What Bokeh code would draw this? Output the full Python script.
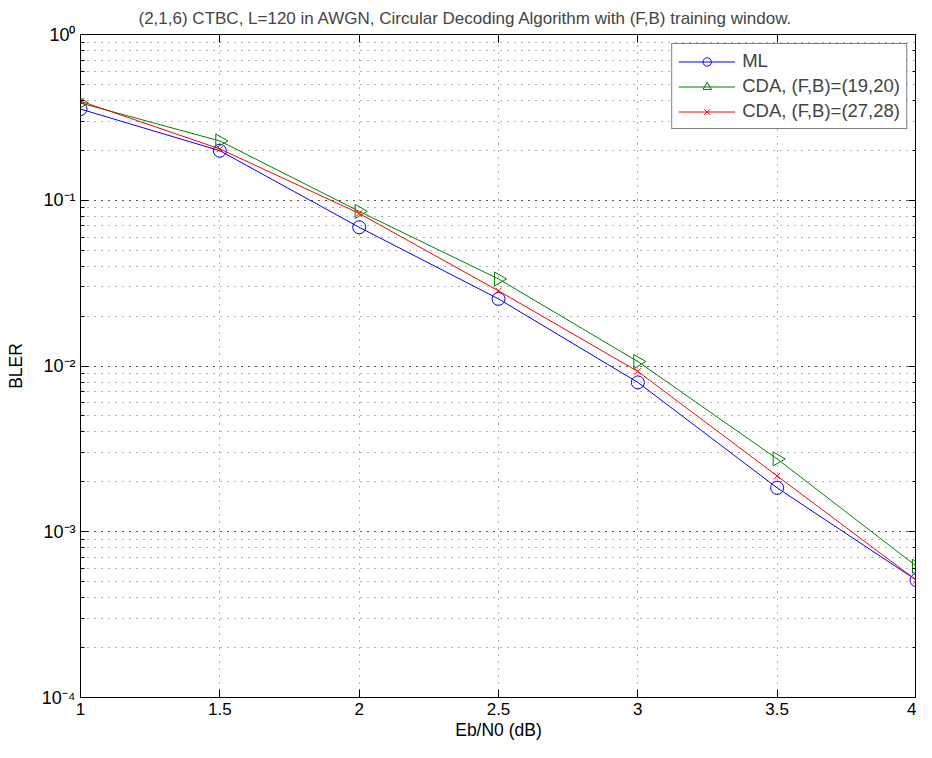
import numpy as np
from bokeh.plotting import figure
from bokeh.models import LinearAxis, LogAxis, Legend, LegendItem, FixedTicker, CustomJSTickFormatter
from bokeh.embed import file_html
from bokeh.resources import INLINE

ebn0 = [1.0, 1.5, 2.0, 2.5, 3.0, 3.5, 4.0]
bler_ml = [0.355, 0.199, 0.0687, 0.0254, 0.00796, 0.00184, 0.000510]
bler_cda_19_20 = [0.386, 0.228, 0.0857, 0.0335, 0.01064, 0.00275, 0.000619]
bler_cda_27_28 = [0.396, 0.204, 0.0833, 0.0284, 0.00927, 0.00217, 0.000510]
x_ticks = [1, 1.5, 2, 2.5, 3, 3.5, 4]
x_tick_labels = {1: "1", 1.5: "1.5", 2: "2", 2.5: "2.5", 3: "3", 3.5: "3.5", 4: "4"}
y_tick_labels = {1e-4: "10⁻⁴", 1e-3: "10⁻³", 1e-2: "10⁻²", 1e-1: "10⁻¹", 1: "10⁰"}
title_text = "(2,1,6) CTBC, L=120 in AWGN, Circular Decoding Algorithm with (F,B) training window."
series_labels = ["ML", "CDA, (F,B)=(19,20)", "CDA, (F,B)=(27,28)"]

FONT = "Liberation Sans"
GRID = "#000000"

p = figure(width=916, height=742, y_axis_type="log", x_range=(1, 4), y_range=(1e-4, 1),
           output_backend="svg", toolbar_location=None, title=title_text,
           min_border_left=80, min_border_right=0, min_border_top=30, min_border_bottom=45)
p.title.align = "left"
p.title.offset = 58
p.title.text_font = FONT
p.title.text_font_size = "17px"
p.title.text_font_style = "normal"
p.title.standoff = 13
p.background_fill_color = "white"
p.border_fill_color = "white"
p.outline_line_color = "black"
p.outline_line_width = 1

# axes
xa = p.xaxis[0]
xa.ticker = FixedTicker(ticks=x_ticks)
xa.major_label_overrides = x_tick_labels
ya = p.yaxis[0]
ya.major_label_overrides = y_tick_labels
for ax in (xa, ya):
    ax.major_label_text_font = FONT
    ax.major_label_text_font_size = "17px"
    ax.major_label_text_color = "black"
    ax.axis_label_text_font = FONT
    ax.axis_label_text_font_size = "17.5px"
    ax.axis_label_text_font_style = "normal"
    ax.axis_label_text_color = "black"
    ax.axis_line_color = "black"
    ax.major_tick_in = 8
    ax.major_tick_out = 0
    ax.major_tick_line_color = "black"
ya.major_label_text_font_size = "18px"
xa.axis_label = "Eb/N0 (dB)"
ya.axis_label = "BLER"
xa.minor_tick_line_color = None
ya.minor_tick_in = 4
ya.minor_tick_out = 0
ya.minor_tick_line_color = "black"
xa.major_label_standoff = 5
ya.major_label_standoff = 5
xa.axis_label_standoff = 2
ya.axis_label_standoff = 13

top = LinearAxis(ticker=FixedTicker(ticks=x_ticks), formatter=CustomJSTickFormatter(code="return ''"),
                 major_label_standoff=0, major_tick_in=8, major_tick_out=0,
                 minor_tick_line_color=None, axis_line_color="black")
p.add_layout(top, "above")
right = LogAxis(formatter=CustomJSTickFormatter(code="return ''"), major_label_standoff=0,
                major_tick_in=8, major_tick_out=0, minor_tick_in=4, minor_tick_out=0,
                minor_tick_line_color="black", axis_line_color="black")
p.add_layout(right, "right")

# grids
p.xgrid.ticker = FixedTicker(ticks=x_ticks)
p.xgrid.grid_line_color = GRID
p.xgrid.grid_line_alpha = 0.6
p.xgrid.grid_line_dash = "1 6"
p.xgrid.grid_line_width = 1
p.ygrid.grid_line_color = GRID
p.ygrid.grid_line_alpha = 0.6
p.ygrid.grid_line_dash = "1 6"
p.ygrid.minor_grid_line_color = GRID
p.ygrid.minor_grid_line_alpha = 0.6
p.ygrid.minor_grid_line_dash = "1 6"

# series
l1 = p.line(ebn0, bler_ml, line_color="#0000ff", line_width=1)
m1 = p.scatter(ebn0, bler_ml, marker="circle", size=13, fill_color=None, line_color="#0000ff", line_width=1)
l2 = p.line(ebn0, bler_cda_19_20, line_color="#008000", line_width=1)
m2 = p.scatter(ebn0, bler_cda_19_20, marker="triangle", angle=-np.pi / 2, size=14,
               fill_color=None, line_color="#008000", line_width=1)
l3 = p.line(ebn0, bler_cda_27_28, line_color="#ff0000", line_width=1)
m3 = p.scatter(ebn0, bler_cda_27_28, marker="x", size=9, line_color="#ff0000", line_width=1)

legend = Legend(items=[LegendItem(label=series_labels[0], renderers=[l1, m1]),
                       LegendItem(label=series_labels[1], renderers=[l2, m2]),
                       LegendItem(label=series_labels[2], renderers=[l3, m3])],
                location="top_right", margin=9, padding=6, spacing=3,
                glyph_width=57, glyph_height=21, label_height=21, label_standoff=7,
                label_text_font=FONT, label_text_font_size="18.5px",
                border_line_color="black", border_line_width=1, background_fill_alpha=1)
p.add_layout(legend, "center")

open("out.html", "w").write(file_html(p, INLINE))
